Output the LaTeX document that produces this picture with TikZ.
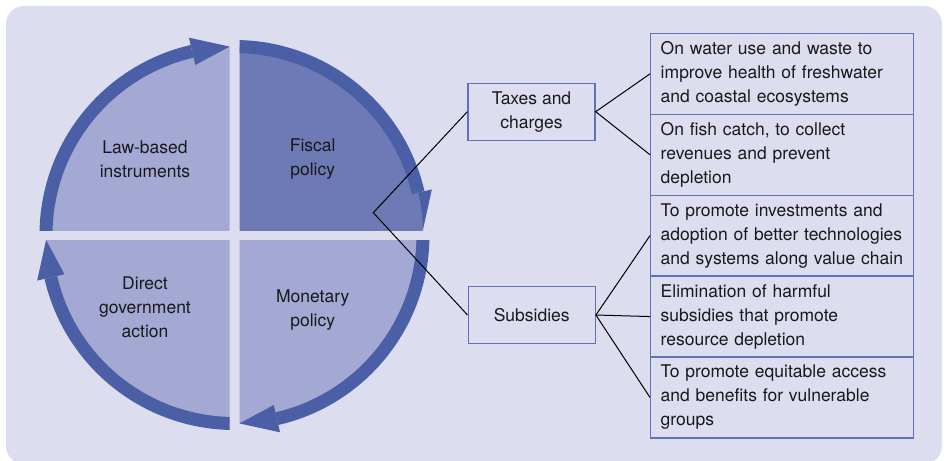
\documentclass[tikz,border=0pt]{standalone}
\usepackage{fontspec}
\setmainfont{TeX Gyre Heros}

\definecolor{bgpanel}{RGB}{221,221,240}
\definecolor{quadlight}{RGB}{164,169,212}
\definecolor{quaddark}{RGB}{110,122,181}
\definecolor{band}{RGB}{74,95,165}
\definecolor{boxline}{RGB}{96,113,186}

\tikzset{
  txt/.style={font=\fontsize{17.5}{24}\selectfont, text=black!90, align=center},
  catbox/.style={draw=boxline, line width=1.4pt, minimum width=127pt, minimum height=57pt,
    align=center, font=\fontsize{17.5}{24}\selectfont, text=black!90},
  itembox/.style={draw=boxline, line width=1.4pt, minimum width=263pt, minimum height=80.9pt,
    text width=243pt, inner xsep=10pt, align=left, anchor=north west,
    font=\fontsize{17.5}{24}\selectfont, text=black!90},
  link/.style={draw=black, line width=1pt}
}

% one quarter of the ring: sector fill, band along the rim and its arrow head
% #1 rotation, #2 fill colour
\newcommand\ringpart[2]{%
  \begin{scope}[rotate=#1]
    \clip (-5,5) rectangle (-215,215);
    \fill[#2] (0,0) -- (180:188.5) arc[start angle=180,end angle=90,radius=188.5] -- cycle;
    \fill[band] (180:182) arc[start angle=180,end angle=103,radius=182]
      -- (103:195) arc[start angle=103,end angle=180,radius=195] -- cycle;
    \fill[band] (103:202.5) -- (91.5:188.5) -- (103:174.5) -- cycle;
  \end{scope}}

% same quarter, with the arrow head partly under the sector fill
\newcommand\ringpartunder[2]{%
  \begin{scope}[rotate=#1]
    \clip (-5,5) rectangle (-215,215);
    \fill[band] (103:202.5) -- (91.5:188.5) -- (103:174.5) -- cycle;
    \fill[#2] (0,0) -- (180:188.5) arc[start angle=180,end angle=90,radius=188.5] -- cycle;
    \fill[band] (180:182) arc[start angle=180,end angle=103,radius=182]
      -- (103:195) arc[start angle=103,end angle=180,radius=195] -- cycle;
  \end{scope}}

\begin{document}
\begin{tikzpicture}[x=1pt,y=-1pt]
  \useasboundingbox (0,0) rectangle (944,460);
  \fill[white] (0,0) rectangle (944,460);
  \fill[bgpanel, rounded corners=18pt] (6,6) rectangle (942,464);

  % ring of four policy areas
  \begin{scope}[shift={(234.5,235)}, x=1pt, y=1pt]
    \ringpart{0}{quadlight}
    \ringpartunder{-90}{quaddark}
    \ringpart{-180}{quadlight}
    \ringpart{-270}{quadlight}
  \end{scope}

  \node[txt] (law) at (145,159) {Law-based\\instruments};
  \node[txt] (fiscal) at (312.7,159) {Fiscal\\policy};
  \node[txt] (direct) at (145,307) {Direct\\government\\action};
  \node[txt] (monetary) at (312.7,310.5) {Monetary\\policy};

  % fiscal instruments
  \node[catbox] (taxes) at (531.5,111.7) {Taxes and\\charges};
  \node[catbox] (subs) at (531.7,315) {Subsidies};

  \node[itembox] (b1) at (650,32.7) {On water use and waste to\\improve health of freshwater\\and coastal ecosystems};
  \node[itembox] (b2) at (650,113.6) {On fish catch, to collect\\revenues and prevent\\depletion};
  \node[itembox] (b3) at (650,194.5) {To promote investments and\\adoption of better technologies\\and systems along value chain};
  \node[itembox] (b4) at (650,275.4) {Elimination of harmful\\subsidies that promote\\resource depletion};
  \node[itembox] (b5) at (650,356.3) {To promote equitable access\\and benefits for vulnerable\\groups};

  % connectors
  \coordinate (fork) at (373.3,212.7);
  \draw[link] (taxes.west) -- (fork) -- (subs.west);
  \draw[link] (b1.west) -- (taxes.east) -- (b2.west);
  \draw[link] (b3.west) -- (subs.east) -- (b5.west);
  \draw[link] (subs.east) -- (b4.west);
\end{tikzpicture}
\end{document}
